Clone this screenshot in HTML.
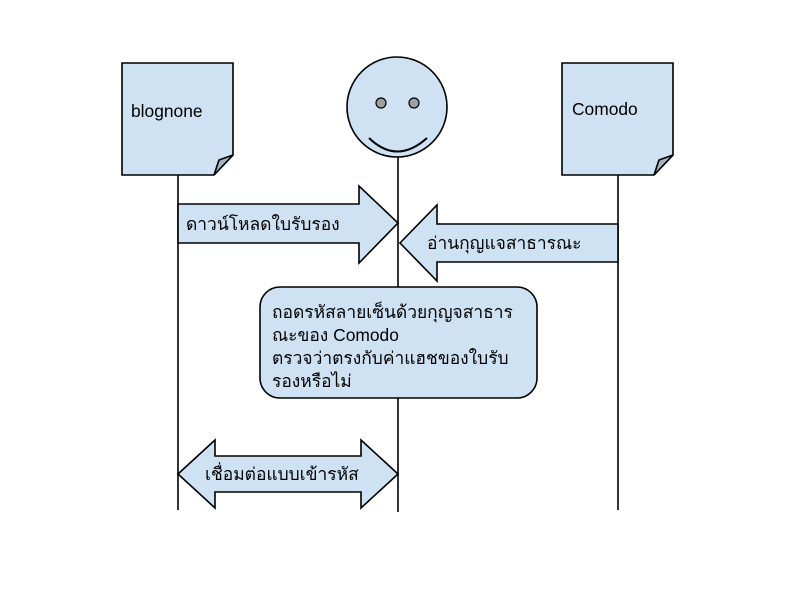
<!DOCTYPE html>
<html><head><meta charset="utf-8"><style>
body{margin:0;background:#fff}
svg text{font-family:"Liberation Sans","DejaVu Sans",sans-serif;font-size:17.4px;fill:#000}
</style></head><body>
<svg width="796" height="594" viewBox="0 0 796 594" xmlns="http://www.w3.org/2000/svg">
<g stroke="#000" stroke-width="1.6" fill="#cfe2f3" stroke-linejoin="miter">
<line x1="178" y1="175" x2="178" y2="510"/>
<line x1="398" y1="157" x2="398" y2="512"/>
<line x1="618" y1="175" x2="618" y2="510"/>
<path d="M122 63 H233 V155 L214 175 H122 Z"/>
<path d="M233 155 L214 175 L219 160 Z" fill="#a7b5c4"/>
<path d="M562 63 H673 V155 L654 175 H562 Z"/>
<path d="M673 155 L654 175 L659 160 Z" fill="#a7b5c4"/>
<circle cx="397" cy="107" r="50"/>
<circle cx="381" cy="103" r="5" fill="#a0a0a0" stroke-width="1.2"/>
<circle cx="414" cy="103" r="5" fill="#a0a0a0" stroke-width="1.2"/>
<path d="M369 138 Q397 165 427 138" fill="none" stroke-width="2"/>
<path d="M178 204 H359 V186 L398 223 L359 263 V243 H178 Z"/>
<path d="M618 224 H437 V205 L400 243 L437 281 V262 H618 Z"/>
<rect x="260" y="287" width="277" height="111" rx="20"/>
<path d="M178 474 L215 440 V456 H361 V440 L398 474 L361 508 V492 H215 V508 Z"/>
</g>
<text x="131" y="117">blognone</text>
<text x="572" y="115">Comodo</text>
<text x="186" y="230">ดาวน์โหลดใบรับรอง</text>
<text x="427" y="249">อ่านกุญแจสาธารณะ</text>
<text x="272" y="318">ถอดรหัสลายเซ็นด้วยกุญจสาธาร</text>
<text x="272" y="341">ณะของ Comodo</text>
<text x="272" y="364">ตรวจว่าตรงกับค่าแฮชของใบรับ</text>
<text x="272" y="387">รองหรือไม่</text>
<text x="205" y="480">เชื่อมต่อแบบเข้ารหัส</text>
</svg>
</body></html>
